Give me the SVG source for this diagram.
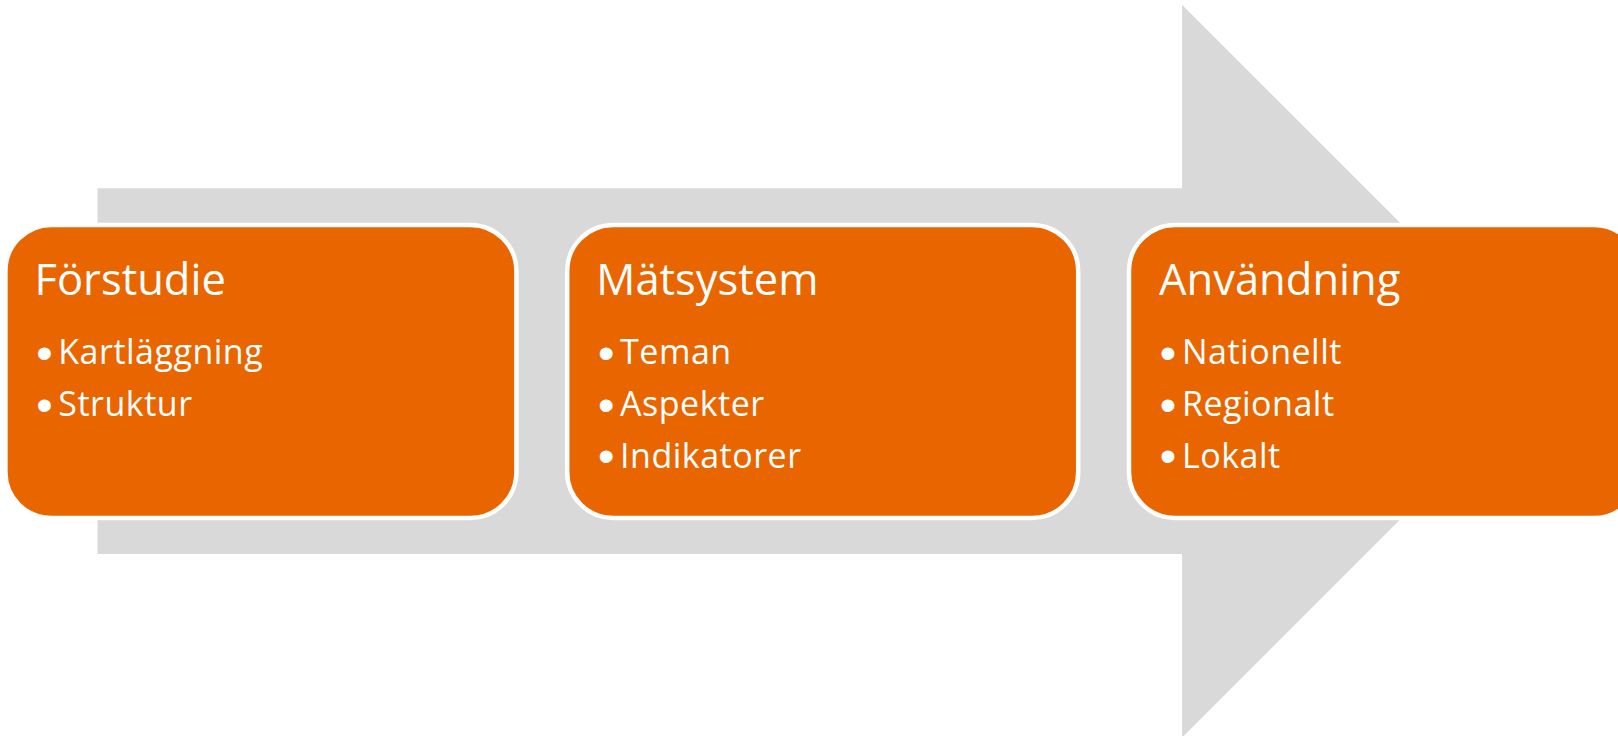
<svg xmlns="http://www.w3.org/2000/svg" width="1618" height="736" viewBox="0 0 1618 736">
  <style>
    .box { fill: #E96500; stroke: #FFFFFF; stroke-width: 4.5; }
    .title { font-family: "Open Sans", "Noto Sans", "Liberation Sans", sans-serif; font-size: 43.5px; fill: #FFFFFF; }
    .item { font-family: "Open Sans", "Noto Sans", "Liberation Sans", sans-serif; font-size: 34px; letter-spacing: 0.5px; fill: #FFFFFF; }
    .bullet { font-family: "Liberation Sans", "DejaVu Sans", sans-serif; font-size: 47px; fill: #FFFFFF; }
  </style>
  <rect x="0" y="0" width="1618" height="736" fill="#FFFFFF"/>
  <g id="connectors">
    <polygon id="process-arrow" points="97.5,188.3 1182,188.3 1182,4.7 1548.5,371.2 1182,737.7 1182,554 97.5,554" fill="#D9D9D9"/>
  </g>
  <g id="node-forstudie">
    <rect class="box" x="5.4" y="225" width="511" height="293" rx="46" ry="46"/>
    <text class="title" x="34.5" y="295">Förstudie</text>
    <text class="bullet" x="36.2" y="369">•</text>
    <text class="item" x="58.3" y="364.3">Kartläggning</text>
    <text class="bullet" x="36.2" y="420.6">•</text>
    <text class="item" x="58.3" y="416">Struktur</text>
  </g>
  <g id="node-matsystem">
    <rect class="box" x="567.2" y="225" width="511" height="293" rx="46" ry="46"/>
    <text class="title" x="596.3" y="295">Mätsystem</text>
    <text class="bullet" x="598" y="369">•</text>
    <text class="item" x="620.1" y="364.3">Teman</text>
    <text class="bullet" x="598" y="420.6">•</text>
    <text class="item" x="620.1" y="416">Aspekter</text>
    <text class="bullet" x="598" y="472.2">•</text>
    <text class="item" x="620.1" y="467.6">Indikatorer</text>
  </g>
  <g id="node-anvandning">
    <rect class="box" x="1129" y="225" width="511" height="293" rx="46" ry="46"/>
    <text class="title" x="1159" y="295">Användning</text>
    <text class="bullet" x="1159.8" y="369">•</text>
    <text class="item" x="1182" y="364.3">Nationellt</text>
    <text class="bullet" x="1159.8" y="420.6">•</text>
    <text class="item" x="1182" y="416">Regionalt</text>
    <text class="bullet" x="1159.8" y="472.2">•</text>
    <text class="item" x="1182" y="467.6">Lokalt</text>
  </g>
</svg>
